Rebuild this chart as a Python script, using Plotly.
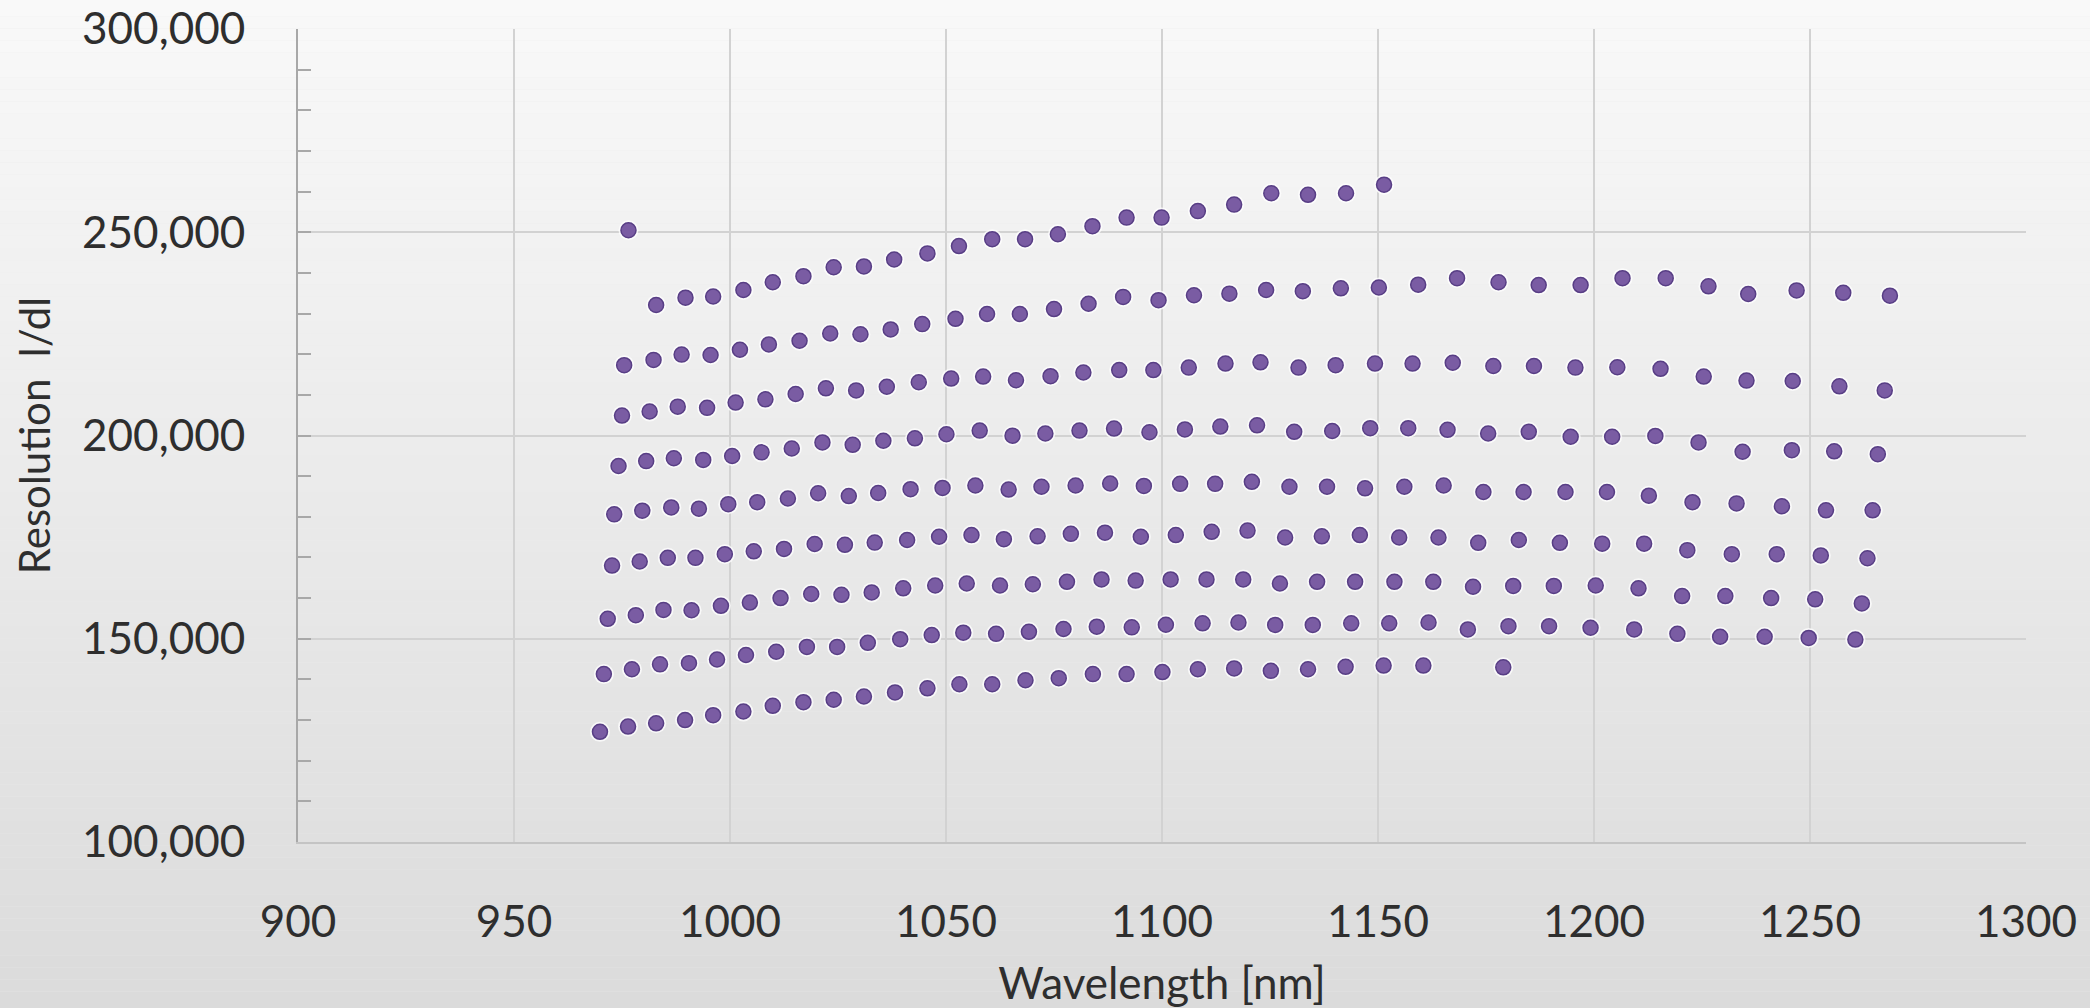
import plotly.graph_objects as go

# ---- data (wavelength in nm, resolution lambda/dlambda) ----
wl_row0 = [976.5]
res_row0 = [250500]

wl_row1 = [982.9, 989.7, 996.1, 1003.1, 1009.9, 1017.0, 1024.0, 1031.0, 1038.0, 1045.7, 1053.0, 1060.7,
           1068.3, 1075.9, 1083.9, 1091.8, 1099.9, 1108.3, 1116.7, 1125.3, 1133.8, 1142.6, 1151.4]
res_row1 = [232100, 233900, 234200, 235800, 237700, 239200, 241400, 241600, 243300, 244800, 246600, 248300,
            248300, 249500, 251500, 253600, 253600, 255200, 256800, 259600, 259200, 259600, 261700]

wl_row2 = [975.5, 982.3, 988.8, 995.5, 1002.3, 1009.0, 1016.1, 1023.2, 1030.2, 1037.2, 1044.5, 1052.2,
           1059.5, 1067.1, 1075.0, 1083.0, 1091.0, 1099.2, 1107.4, 1115.6, 1124.1, 1132.6, 1141.4, 1150.2,
           1159.3, 1168.3, 1177.9, 1187.2, 1196.9, 1206.6, 1216.6, 1226.5, 1235.7, 1246.9, 1257.7, 1268.5]
res_row2 = [217300, 218600, 219900, 219800, 221100, 222400, 223300, 225100, 224900, 226100, 227400, 228700,
            229900, 229900, 231100, 232400, 234100, 233300, 234500, 234900, 235800, 235500, 236200, 236400,
            237100, 238700, 237700, 237000, 237000, 238700, 238700, 236700, 234800, 235700, 235100, 234400]

wl_row3 = [975.0, 981.4, 987.9, 994.7, 1001.3, 1008.2, 1015.2, 1022.2, 1029.2, 1036.3, 1043.7, 1051.2,
           1058.6, 1066.2, 1074.2, 1081.8, 1090.1, 1098.0, 1106.2, 1114.7, 1122.8, 1131.6, 1140.2, 1149.3,
           1158.0, 1167.3, 1176.7, 1186.1, 1195.7, 1205.4, 1215.4, 1225.4, 1235.3, 1246.0, 1256.8, 1267.3]
res_row3 = [204900, 205900, 207100, 206800, 208100, 208900, 210200, 211600, 211100, 212000, 213100, 214000,
            214500, 213600, 214600, 215500, 216100, 216100, 216700, 217700, 218000, 216700, 217300, 217700,
            217700, 217900, 217100, 217100, 216700, 216800, 216400, 214500, 213500, 213400, 212100, 211100]

wl_row4 = [974.2, 980.6, 987.0, 993.8, 1000.5, 1007.3, 1014.3, 1021.4, 1028.4, 1035.5, 1042.8, 1050.1,
           1057.8, 1065.4, 1073.0, 1080.9, 1088.9, 1097.1, 1105.3, 1113.5, 1122.0, 1130.6, 1139.4, 1148.2,
           1157.0, 1166.1, 1175.5, 1184.9, 1194.6, 1204.2, 1214.2, 1224.2, 1234.4, 1245.8, 1255.6, 1265.7]
res_row4 = [192500, 193700, 194400, 194000, 194950, 195850, 196800, 198300, 197700, 198700, 199300, 200300,
            201200, 199950, 200500, 201200, 201700, 200800, 201500, 202200, 202500, 200900, 201100, 201800,
            201800, 201400, 200500, 200900, 199700, 199700, 199900, 198300, 196000, 196400, 196100, 195400]

wl_row5 = [973.2, 979.7, 986.4, 992.8, 999.6, 1006.3, 1013.4, 1020.4, 1027.5, 1034.3, 1041.8, 1049.2,
           1056.8, 1064.5, 1072.1, 1080.0, 1088.0, 1095.8, 1104.2, 1112.3, 1120.8, 1129.5, 1138.2, 1147.0,
           1156.1, 1165.2, 1174.4, 1183.7, 1193.4, 1203.0, 1212.7, 1222.8, 1233.0, 1243.5, 1253.7, 1264.5]
res_row5 = [180600, 181500, 182300, 182000, 183100, 183600, 184500, 185800, 185100, 185850, 186800, 187100,
            187700, 186700, 187400, 187700, 188200, 187600, 188100, 188100, 188600, 187400, 187400, 187000,
            187400, 187700, 186100, 186100, 186100, 186100, 185200, 183600, 183300, 182600, 181600, 181600]

wl_row6 = [972.7, 979.1, 985.6, 992.0, 998.8, 1005.5, 1012.5, 1019.6, 1026.6, 1033.5, 1041.0, 1048.4,
           1055.9, 1063.4, 1071.2, 1078.9, 1086.8, 1095.1, 1103.2, 1111.5, 1119.8, 1128.5, 1137.0, 1145.8,
           1154.9, 1164.0, 1173.2, 1182.6, 1192.1, 1201.9, 1211.6, 1221.6, 1231.9, 1242.3, 1252.5, 1263.3]
res_row6 = [168000, 169000, 169900, 169900, 170800, 171500, 172100, 173300, 173100, 173650, 174300, 175100,
            175500, 174500, 175200, 175800, 176100, 175100, 175500, 176300, 176600, 174900, 175200, 175500,
            174900, 174900, 173600, 174300, 173600, 173400, 173400, 171800, 170800, 170800, 170500, 169800]

wl_row7 = [971.7, 978.2, 984.6, 991.1, 997.9, 1004.6, 1011.7, 1018.8, 1025.8, 1032.8, 1040.1, 1047.5,
           1054.8, 1062.5, 1070.1, 1078.0, 1086.0, 1093.9, 1102.0, 1110.3, 1118.8, 1127.3, 1135.9, 1144.7,
           1153.8, 1162.8, 1172.0, 1181.3, 1190.7, 1200.4, 1210.3, 1220.4, 1230.4, 1241.0, 1251.2, 1262.0]
res_row7 = [154900, 155800, 157100, 157000, 158100, 158900, 160000, 161000, 160800, 161400, 162400, 163100,
            163600, 163100, 163400, 164000, 164600, 164300, 164600, 164600, 164600, 163600, 164000, 164000,
            164000, 164000, 162800, 163000, 163000, 163100, 162400, 160500, 160500, 160000, 159700, 158700]

wl_row8 = [970.8, 977.3, 983.8, 990.5, 997.0, 1003.7, 1010.7, 1017.8, 1024.8, 1031.9, 1039.4, 1046.7,
           1054.0, 1061.6, 1069.2, 1077.2, 1084.9, 1093.0, 1100.9, 1109.4, 1117.7, 1126.2, 1134.9, 1143.8,
           1152.6, 1161.7, 1170.8, 1180.2, 1189.6, 1199.2, 1209.3, 1219.3, 1229.2, 1239.5, 1249.7, 1260.5]
res_row8 = [141300, 142500, 143700, 144000, 144900, 146000, 146800, 148000, 148000, 149000, 149900, 150900,
            151500, 151200, 151700, 152400, 152970, 152800, 153450, 153800, 154000, 153400, 153400, 153800,
            153800, 154000, 152300, 153100, 153100, 152700, 152300, 151200, 150500, 150500, 150200, 149800]

wl_row9 = [969.9, 976.4, 982.9, 989.6, 996.1, 1003.1, 1009.9, 1017.0, 1024.0, 1031.0, 1038.2, 1045.7,
           1053.1, 1060.7, 1068.4, 1076.1, 1084.0, 1091.8, 1100.1, 1108.3, 1116.7, 1125.2, 1133.8, 1142.5,
           1151.3, 1160.5, 1179.0]
res_row9 = [127100, 128400, 129200, 130000, 131200, 132100, 133500, 134400, 135000, 135800, 136800, 137800,
            138800, 138800, 139800, 140300, 141300, 141300, 141800, 142500, 142700, 142100, 142500, 143100,
            143400, 143400, 142970]

x_ticks = [900, 950, 1000, 1050, 1100, 1150, 1200, 1250, 1300]
y_ticks = [100000, 150000, 200000, 250000, 300000]

rows_wl = [wl_row0, wl_row1, wl_row2, wl_row3, wl_row4, wl_row5, wl_row6, wl_row7, wl_row8, wl_row9]
rows_res = [res_row0, res_row1, res_row2, res_row3, res_row4, res_row5, res_row6, res_row7, res_row8, res_row9]

all_wl = [v for r in rows_wl for v in r]
all_res = [v for r in rows_res for v in r]

# ---- layout geometry ----
W, H = 2090, 1008
ML, MR, MT, MB = 298, 64, 29, 166
PW, PH = W - ML - MR, H - MT - MB

FONT = "Lato"
TXT = "#2e2e2e"
fig = go.Figure()

# soft halo behind markers
fig.add_trace(go.Scatter(
    x=all_wl, y=all_res, mode="markers", hoverinfo="skip", showlegend=False,
    marker=dict(size=20, color="rgba(255,255,255,0.75)", line=dict(width=0))))
fig.add_trace(go.Scatter(
    x=all_wl, y=all_res, mode="markers", showlegend=False, name="Resolution",
    marker=dict(size=15, color="#7a5ca3", line=dict(width=1.5, color="#583e85"))))

# vertical background gradient over whole page
shapes = []
N = 84
x0p, x1p = -ML / PW - 0.01, 1 + MR / PW + 0.01
ytop, ybot = 1 + MT / PH + 0.01, -MB / PH - 0.01
for i in range(N):
    f = i / (N - 1)
    c = round(249 - (249 - 219) * f)
    ya = ytop - (ytop - ybot) * i / N
    yb = ytop - (ytop - ybot) * (i + 1) / N
    shapes.append(dict(type="rect", xref="paper", yref="paper", x0=x0p, x1=x1p, y0=yb, y1=ya,
                       fillcolor=f"rgb({c},{c},{c})", line=dict(width=0), layer="below"))

fig.update_layout(
    width=W, height=H,
    margin=dict(l=ML, r=MR, t=MT, b=MB, pad=0, autoexpand=False),
    paper_bgcolor="#ebebeb",
    plot_bgcolor="rgba(0,0,0,0)",
    shapes=shapes,
    font=dict(family=FONT, color=TXT),
)

fig.update_xaxes(
    range=[900, 1300], tickvals=x_ticks, ticktext=[str(v) for v in x_ticks],
    automargin=False,
    showgrid=True, gridcolor="#d2d2d2", gridwidth=2,
    showline=True, linecolor="#c4c4c4", linewidth=2,
    ticks="", zeroline=False,
    tickfont=dict(size=44, family=FONT, color=TXT),
    ticklabelstandoff=40,
    title=dict(text="Wavelength [nm]", font=dict(size=44, family=FONT, color=TXT), standoff=30),
)
fig.update_yaxes(
    range=[100000, 300000], tickvals=y_ticks, tickformat=",d",
    automargin=False,
    showgrid=True, gridcolor="#d2d2d2", gridwidth=2,
    showline=True, linecolor="#a8a8a8", linewidth=2,
    ticks="inside", ticklen=13, tickwidth=2, tickcolor="#a8a8a8",
    minor=dict(dtick=10000, ticks="inside", ticklen=13, tickwidth=2, tickcolor="#a8a8a8", showgrid=False),
    zeroline=False,
    tickfont=dict(size=44, family=FONT, color=TXT),
    ticklabelstandoff=42,
    title=dict(text="Resolution\u00a0\u00a0l/dl", font=dict(size=42, family=FONT, color=TXT), standoff=18),
)

fig.write_html("out.html")
